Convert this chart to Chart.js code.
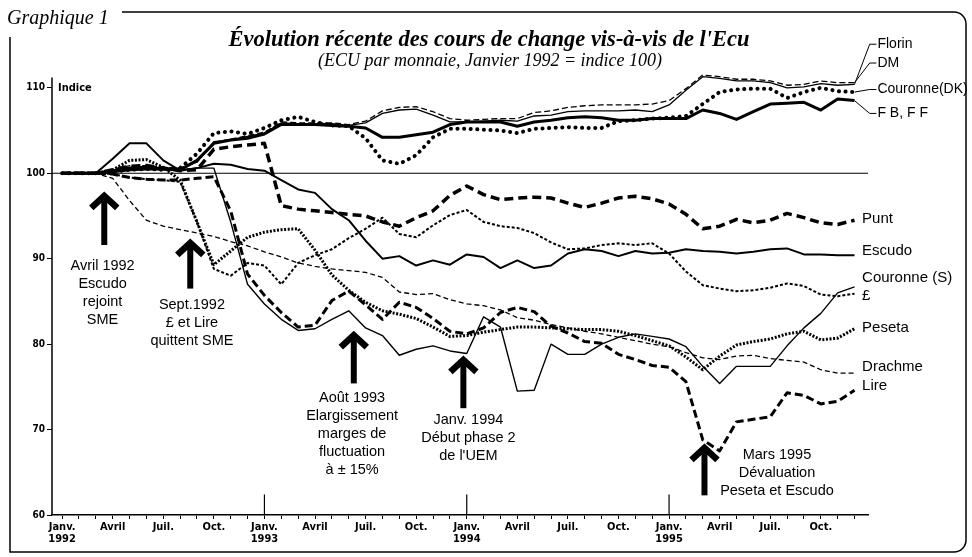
<!DOCTYPE html>
<html>
<head>
<meta charset="utf-8">
<script src="https://cdn.jsdelivr.net/npm/chart.js@4/dist/chart.umd.min.js"></script>
<style>
  html, body { margin: 0; padding: 0; background: #fff; }
  #wrap { position: relative; width: 972px; height: 557px; }
</style>
</head>
<body>
<div id="wrap"><canvas id="myChart"></canvas></div>
<script>
// month index: 0 = Janv. 1992 ... 47 = Déc. 1995
var quarterNames = ['Janv.', 'Avril', 'Juil.', 'Oct.'];
var years = ['1992', '1993', '1994', '1995'];
var yTicks = [60, 70, 80, 90, 100, 110];

var florin  = [100,100,100,100.4,100.7,100.8,100.6,100.6,101.3,103.7,103.9,104.3,104.7,105.9,105.8,105.8,105.8,105.6,105.9,107.0,107.4,107.5,106.8,106.0,106.0,106.1,106.2,106.1,106.7,106.8,107.2,107.3,107.3,107.3,107.4,107.2,108.0,109.7,111.3,111.1,110.8,110.8,110.6,110.0,110.1,110.5,110.3,110.4];
var dm      = [100,100,100,100.4,100.9,100.9,100.7,100.6,101.3,103.6,104.0,104.4,104.8,106.0,105.9,105.9,105.9,105.7,106.1,107.3,107.7,107.8,107.2,106.4,106.2,106.3,106.4,106.4,107.1,107.3,107.7,107.9,108.0,108.0,108.0,108.1,108.5,109.9,111.5,111.3,111.0,111.0,110.8,110.3,110.4,110.8,110.6,110.6];
var dkk     = [100,100,100,100.2,100.4,100.5,100.4,100.6,102.3,104.7,104.9,104.6,105.3,106.2,106.6,106.0,105.6,105.5,104.1,101.5,101.1,102.1,104.2,105.2,105.2,105.1,105.0,104.7,105.2,105.3,105.4,105.3,105.3,106.1,106.2,106.4,106.5,106.7,108.1,109.5,109.8,109.9,109.9,108.8,109.5,110.0,109.6,109.5];
var fbff    = [100,100,100,100.2,100.5,100.6,100.5,100.4,101.5,103.5,103.9,104.1,104.6,105.7,105.7,105.7,105.6,105.5,105.3,104.2,104.2,104.5,104.8,105.7,106.0,106.0,106.0,105.5,106.0,106.2,106.5,106.6,106.5,106.2,106.2,106.4,106.4,106.4,107.4,107.0,106.3,107.2,108.1,108.2,108.3,107.4,108.7,108.5];
var punt    = [100,100,100,100.4,100.8,100.9,100.6,100.3,100.4,102.8,103.1,103.3,103.5,96.2,95.8,95.6,95.4,95.2,95.0,94.3,93.8,94.8,95.6,97.4,98.5,97.5,96.9,97.1,97.2,97.1,96.5,96.0,96.5,97.1,97.3,97.0,96.4,95.2,93.5,93.8,94.6,94.2,94.5,95.3,94.8,94.2,94.0,94.5];
var escudo  = [100,100,100,101.7,103.5,103.5,101.5,100.3,100.6,101.1,101.0,100.5,100.3,99.2,98.1,97.7,95.8,94.5,92.1,90.0,90.3,89.2,89.8,89.3,90.5,90.2,88.9,89.8,88.9,89.2,90.6,91.1,90.9,90.3,90.9,90.6,90.7,91.1,90.9,90.8,90.6,90.8,91.1,91.2,90.5,90.5,90.4,90.4];
var sek     = [100,100,100,100.1,100.3,100.4,100.4,100.4,100.6,100.6,94.3,87.0,84.7,82.9,81.6,81.8,82.9,83.9,81.9,81.0,78.7,79.4,79.8,79.2,78.9,83.2,82.0,74.5,74.6,80.0,78.8,78.8,80.0,80.8,81.2,80.9,80.6,79.7,77.4,75.4,77.4,77.4,77.4,79.8,81.9,83.6,86.0,86.7];
var livre   = [100,100,100,99.9,99.5,99.3,99.2,99.0,94.3,88.8,88.0,89.5,89.2,87.0,89.5,90.4,91.1,92.4,93.5,94.8,92.9,92.5,93.9,95.1,95.7,94.3,93.8,93.6,93.0,91.9,91.1,91.2,91.6,91.8,91.6,91.8,90.6,88.5,86.9,86.5,86.2,86.3,86.6,87.1,86.8,85.8,85.6,85.9];
var peseta  = [100,100,100,100.4,101.5,101.6,100.7,99.2,94.3,89.3,90.9,92.5,93.1,93.4,93.5,91.0,88.1,86.3,84.9,83.9,83.5,83.0,82.0,80.9,81.0,81.4,81.7,82.0,82.0,81.9,81.8,81.7,81.7,81.5,81.0,80.4,79.8,78.5,77.0,78.6,79.9,80.3,80.6,81.2,81.5,80.5,80.7,81.8];
var drachme = [100,100,100,99.4,96.8,94.5,93.8,93.4,93.0,92.6,92.0,91.5,90.8,90.2,89.5,89.1,88.8,88.6,88.4,87.8,86.1,85.8,85.9,85.2,84.7,84.5,84.0,83.1,82.8,82.3,81.9,81.5,81.2,80.8,80.4,80.0,79.7,79.0,78.4,78.2,78.6,78.7,78.3,78.1,77.9,77.0,76.6,76.6];
var lire    = [100,100,100,99.9,99.5,99.3,99.2,99.2,99.4,99.6,95.6,88.2,85.7,83.7,82.0,82.2,85.1,86.2,84.6,82.9,84.9,84.3,83.0,81.5,81.2,81.9,83.7,84.3,83.8,82.1,81.3,80.3,80.1,78.8,78.2,77.5,77.3,75.6,68.8,67.5,70.9,71.2,71.5,74.3,74.0,73.0,73.3,74.6];

var months = florin.map(function(v, i) { return i; });

var series = [
  { label: 'Florin',       data: florin,  width: 1.3, dash: [] },
  { label: 'DM',           data: dm,      width: 1.3, dash: [6, 3] },
  { label: 'Couronne(DK)', data: dkk,     width: 4,   dash: [0.1, 6.5], cap: 'round' },
  { label: 'F B, F F',     data: fbff,    width: 3,   dash: [] },
  { label: 'Punt',         data: punt,    width: 3.5, dash: [9, 5] },
  { label: 'Escudo',       data: escudo,  width: 2,   dash: [] },
  { label: 'Couronne (S)', data: sek,     width: 1.4, dash: [] },
  { label: '£',            data: livre,   width: 2,   dash: [3, 2] },
  { label: 'Peseta',       data: peseta,  width: 3,   dash: [2, 1.6] },
  { label: 'Drachme',      data: drachme, width: 1.3, dash: [5, 3] },
  { label: 'Lire',         data: lire,    width: 3,   dash: [8, 4] }
];

// labels at the right end of the lines
var topLabels = [
  { text: 'Florin', s: 0, v: 115.1 },
  { text: 'DM', s: 1, v: 112.9 },
  { text: 'Couronne(DK)', s: 2, v: 109.8 },
  { text: 'F B, F F', s: 3, v: 107.0 }
];
var sideLabels = [
  { text: 'Punt', s: 4, dv: 0.2 },
  { text: 'Escudo', s: 5, dv: 0.5 },
  { text: 'Couronne (S)', s: 6, dv: 1.1 },
  { text: '£', s: 7, dv: -0.3 },
  { text: 'Peseta', s: 8, dv: 0.1 },
  { text: 'Drachme', s: 9, dv: 0.7 },
  { text: 'Lire', s: 10, dv: 0.5 }
];

var notes = [
  { m: 2.5,  tip: 97.7, tail: 91.6, tm: 2.4,  tv: 89.2, lines: ['Avril 1992', 'Escudo', 'rejoint', 'SME'] },
  { m: 7.6,  tip: 92.2, tail: 86.5, tm: 7.7,  tv: 84.6, lines: ['Sept.1992', '£ et Lire', 'quittent SME'] },
  { m: 17.3, tip: 81.4, tail: 75.4, tm: 17.2, tv: 73.7, lines: ['Août 1993', 'Elargissement', 'marges de', 'fluctuation', 'à ± 15%'] },
  { m: 23.8, tip: 78.5, tail: 72.5, tm: 24.1, tv: 71.1, lines: ['Janv. 1994', 'Début phase 2', "de l'UEM"] },
  { m: 38.1, tip: 68.2, tail: 62.3, tm: 42.4, tv: 67.0, lines: ['Mars 1995', 'Dévaluation', 'Peseta et Escudo'] }
];

var narrow = "'Liberation Sans Narrow', 'DejaVu Sans Condensed', 'Liberation Sans', sans-serif";
var sans = "'Liberation Sans', Arial, sans-serif";
var serif = "'Liberation Serif', 'Times New Roman', serif";

function tickLabel(v) {
  if (v % 3 !== 0) return '';
  var q = quarterNames[(v % 12) / 3];
  if (v % 12 === 0) return [q, years[v / 12]];
  return q;
}

function arrow(ctx, px, tipY, tailY) {
  ctx.save();
  ctx.strokeStyle = '#000';
  ctx.lineWidth = 6;
  ctx.lineCap = 'butt';
  ctx.beginPath();
  ctx.moveTo(px, tailY);
  ctx.lineTo(px, tipY + 6);
  ctx.stroke();
  ctx.lineJoin = 'miter';
  ctx.lineWidth = 6.5;
  ctx.beginPath();
  ctx.moveTo(px - 13, tipY + 15);
  ctx.lineTo(px, tipY + 3);
  ctx.lineTo(px + 13, tipY + 15);
  ctx.stroke();
  ctx.restore();
}

var decor = {
  id: 'decor',
  beforeDatasetsDraw: function(chart) {
    var ctx = chart.ctx, x = chart.scales.x, y = chart.scales.y;
    ctx.save();
    ctx.strokeStyle = '#000';
    // y axis line, stops a little above 110
    ctx.lineWidth = 1.5;
    ctx.beginPath();
    ctx.moveTo(x.left, y.bottom);
    ctx.lineTo(x.left, y.getPixelForValue(111.2));
    ctx.stroke();
    ctx.lineWidth = 1.2;
    ctx.beginPath();
    ctx.moveTo(x.left, y.getPixelForValue(100));
    ctx.lineTo(x.right, y.getPixelForValue(100));
    ctx.stroke();
    // year ticks
    [12, 24, 36].forEach(function(m) {
      var px = x.getPixelForValue(m);
      ctx.beginPath();
      ctx.moveTo(px, y.bottom);
      ctx.lineTo(px, y.getPixelForValue(62.4));
      ctx.stroke();
    });
    ctx.restore();
  },
  afterDraw: function(chart) {
    var ctx = chart.ctx, x = chart.scales.x, y = chart.scales.y;
    ctx.save();
    ctx.fillStyle = '#000';
    ctx.strokeStyle = '#000';

    // frame
    ctx.lineWidth = 1.5;
    ctx.beginPath();
    ctx.moveTo(10, 37);
    ctx.lineTo(10, 552);
    ctx.lineTo(952, 552);
    ctx.arcTo(966, 552, 966, 538, 12);
    ctx.lineTo(966, 26);
    ctx.arcTo(966, 12, 952, 12, 12);
    ctx.lineTo(122, 12);
    ctx.stroke();

    ctx.textBaseline = 'middle';
    ctx.textAlign = 'left';
    ctx.font = 'italic 20px ' + serif;
    ctx.fillText('Graphique 1', 7, 19);

    ctx.textAlign = 'center';
    ctx.font = 'bold italic 22.5px ' + serif;
    ctx.fillText("Évolution récente des cours de change vis-à-vis de l'Ecu", 489, 40);
    ctx.font = 'italic 18px ' + serif;
    ctx.fillText('(ECU par monnaie, Janvier 1992 = indice 100)', 490, 61);

    ctx.textAlign = 'left';
    ctx.font = 'bold 11px ' + narrow;
    ctx.fillText('Indice', x.left + 6, y.getPixelForValue(110));

    // line labels
    ctx.lineWidth = 1;
    var endM = months[months.length - 1];
    ctx.font = '14px ' + sans;
    topLabels.forEach(function(l) {
      var d = series[l.s].data;
      var y0 = y.getPixelForValue(d[d.length - 1]);
      var y1 = y.getPixelForValue(l.v);
      var x0 = x.getPixelForValue(endM);
      var x1 = x.getPixelForValue(endM + 0.9);
      var x2 = x.getPixelForValue(endM + 1.3);
      ctx.beginPath();
      ctx.moveTo(x0, y0);
      ctx.lineTo(x1, y1);
      ctx.lineTo(x2, y1);
      ctx.stroke();
      ctx.fillText(l.text, x2 + 1, y1);
    });
    ctx.font = '15px ' + sans;
    sideLabels.forEach(function(l) {
      var d = series[l.s].data;
      ctx.fillText(l.text, x.getPixelForValue(endM + 0.45), y.getPixelForValue(d[d.length - 1] + l.dv));
    });

    // arrows and notes
    ctx.textAlign = 'center';
    ctx.font = '14.5px ' + sans;
    notes.forEach(function(n) {
      var px = x.getPixelForValue(n.m);
      arrow(ctx, px, y.getPixelForValue(n.tip), y.getPixelForValue(n.tail));
      var tx = x.getPixelForValue(n.tm);
      var ty = y.getPixelForValue(n.tv);
      n.lines.forEach(function(t, i) {
        ctx.fillText(t, tx, ty + i * 18);
      });
    });
    ctx.restore();
  }
};

var ctx = document.getElementById('myChart');
var myChart = new Chart(ctx, {
  type: 'line',
  data: {
    datasets: series.map(function(s) {
      return {
        label: s.label,
        data: s.data.map(function(v, i) { return { x: months[i], y: v }; }),
        borderColor: '#000',
        backgroundColor: '#000',
        borderWidth: s.width,
        borderDash: s.dash,
        borderCapStyle: s.cap || 'butt',
        borderJoinStyle: 'round',
        pointRadius: 0,
        tension: 0,
        fill: false
      };
    })
  },
  options: {
    responsive: true,
    maintainAspectRatio: false,
    animation: false,
    layout: { padding: { top: 69, right: 104, bottom: 0, left: 0 } },
    plugins: { legend: { display: false }, tooltip: { enabled: false }, title: { display: false } },
    scales: {
      x: {
        type: 'linear',
        min: -0.6,
        max: 47.8,
        afterBuildTicks: function(s) { s.ticks = months.map(function(m) { return { value: m }; }); },
        afterFit: function(s) { s.height = 42; },
        ticks: {
          autoSkip: false,
          maxRotation: 0,
          padding: 2,
          color: '#000',
          font: { family: narrow, size: 11, weight: 'bold', lineHeight: 1.1 },
          callback: function(v) { return tickLabel(v); }
        },
        grid: { drawOnChartArea: false, drawTicks: true, tickLength: 4, color: '#000', lineWidth: 1 },
        border: { display: true, color: '#000', width: 1.5 }
      },
      y: {
        min: 60,
        max: 112.2,
        afterBuildTicks: function(s) { s.ticks = yTicks.map(function(v) { return { value: v }; }); },
        afterFit: function(s) { s.width = 52; },
        ticks: {
          padding: 2,
          color: '#000',
          font: { family: narrow, size: 10, weight: 'bold' }
        },
        grid: { drawOnChartArea: false, drawTicks: true, tickLength: 5, color: '#000', lineWidth: 1 },
        border: { display: false }
      }
    }
  },
  plugins: [decor]
});
</script>
</body>
</html>
